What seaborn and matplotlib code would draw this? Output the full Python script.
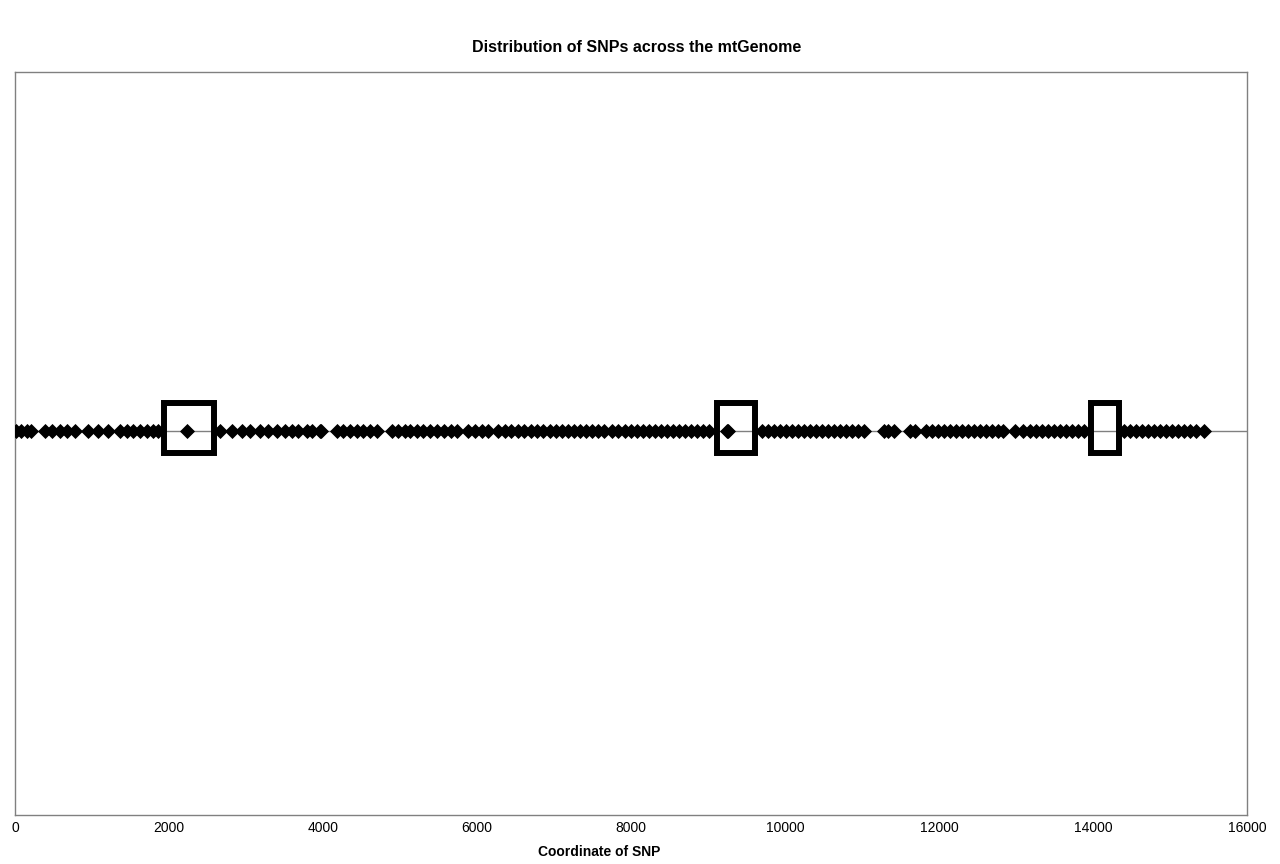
import matplotlib
matplotlib.use("Agg")
import matplotlib.pyplot as plt
from matplotlib.patches import Rectangle
import seaborn as sns

# SNP coordinates (bp)
snp_pos = [
    10, 73, 150, 210,
    390, 480, 585, 675, 780,
    950, 1080, 1210,
    1365, 1455, 1535, 1625, 1715, 1790, 1860,
    2230,
    2663, 2819, 2949, 3053, 3183, 3286, 3404, 3507, 3598, 3676, 3793, 3858,
    3962, 3975,
    4183, 4261, 4352, 4443, 4521, 4612, 4703,
    4897, 4975, 5066,
    5131, 5222, 5300, 5391, 5482, 5573, 5664, 5742,
    5885, 5976, 6066, 6144,
    6274, 6365, 6443, 6534, 6612, 6703, 6781, 6859, 6950, 7028, 7106, 7184,
    7262, 7340, 7418, 7496, 7574, 7652,
    7756, 7834, 7925, 8003, 8081, 8160, 8238, 8316, 8394, 8472, 8550, 8628,
    8706, 8784, 8862, 8940, 9018,
    9250, 9262,
    9705, 9783, 9861, 9939, 10017, 10095, 10173, 10251, 10329,
    10407, 10485, 10563, 10641, 10719, 10797, 10875, 10953, 11031,
    11290, 11343, 11421,
    11628, 11693,
    11836, 11914, 11992, 12070, 12148, 12226, 12304, 12382, 12460, 12538,
    12616, 12694, 12772,
    12835, 12990,
    13094, 13185, 13263, 13341, 13419, 13497, 13575, 13653, 13731, 13809, 13887,
    14406, 14484, 14562, 14640, 14718, 14796, 14874, 14952, 15030, 15108,
    15186, 15264, 15342, 15440,
]
snp_y = [0] * len(snp_pos)

# highlighted regions (start, end) in bp
box_ranges = [(1940, 2580), (9120, 9610), (13980, 14340)]
box_y = (-0.057, 0.073)

x_ticks = [0, 2000, 4000, 6000, 8000, 10000, 12000, 14000, 16000]

sns.set_style("white")
plt.rcParams["font.family"] = ["Liberation Sans", "DejaVu Sans"]

fig = plt.figure(figsize=(12.8, 8.64), dpi=100)
ax = fig.add_axes([0.0117, 0.0567, 0.9625, 0.86])

ax.axhline(0, color="#808080", lw=1, zorder=1)
sns.scatterplot(x=snp_pos, y=snp_y, marker="D", color="black", s=50,
                edgecolor="black", linewidth=0.6, ax=ax, zorder=3)

for x0, x1 in box_ranges:
    ax.add_patch(Rectangle((x0, box_y[0]), x1 - x0, box_y[1] - box_y[0],
                           fill=False, edgecolor="black", lw=4.3, zorder=4))

ax.set_xlim(0, 16000)
ax.set_ylim(-1, 0.935)
ax.set_xticks(x_ticks)
ax.set_xticklabels([str(t) for t in x_ticks], fontsize=10, color="black")
ax.set_yticks([])
ax.tick_params(axis="x", length=0, pad=4.5)
for s in ax.spines.values():
    s.set_color("#808080")
    s.set_linewidth(1)

fig.text(0.4975, 0.9456, "Distribution of SNPs across the mtGenome",
         ha="center", va="center", fontsize=11.5, fontweight="bold",
         color="black")
fig.text(0.468, 0.0135, "Coordinate of SNP", ha="center", va="center",
         fontsize=10, fontweight="bold", color="black")

fig.savefig("out.png", dpi=100)
